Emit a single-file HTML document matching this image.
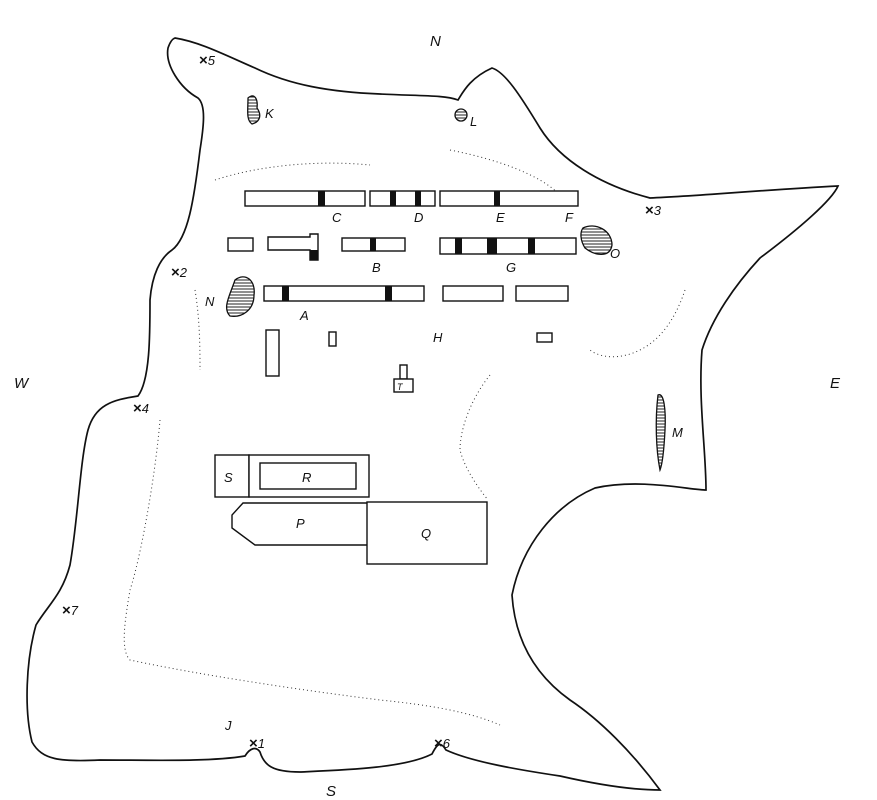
<!DOCTYPE html>
<html><head><meta charset="utf-8"><style>html,body{margin:0;padding:0;background:#fff}svg{display:block}text{font-family:"Liberation Sans",sans-serif;font-style:italic;fill:#111}.x{font-style:normal;font-weight:bold;font-size:15px}</style></head>
<body>
<svg width="877" height="800" viewBox="0 0 877 800" xmlns="http://www.w3.org/2000/svg">
<defs><pattern id="h" width="4" height="3" patternUnits="userSpaceOnUse"><rect width="4" height="3" fill="#fff"/><line x1="0" y1="1" x2="4" y2="1" stroke="#222" stroke-width="1"/></pattern></defs>
<g fill="none" stroke="#111" stroke-width="1.7">
<path d="M175,38 C200,42 225,55 255,68 C290,85 330,92 380,94 C420,96 445,95 458,100 C463,92 470,78 492,68 C505,72 520,95 540,128 C560,160 600,185 650,198 C700,196 760,190 838,186 C832,200 800,228 760,258 C735,285 712,318 702,350 C698,400 706,450 706,490 C690,490 640,478 595,488 C555,505 522,545 512,595 C515,640 535,675 570,700 C600,720 632,752 660,790 C630,790 595,784 560,776 C520,770 472,762 446,750 C441,742 438,742 432,754 C405,768 345,770 300,772 C272,772 264,765 260,752 C256,746 250,748 245,756 C210,762 150,760 100,760 C60,762 42,760 32,742 C24,710 26,660 36,625 C48,605 62,595 70,565 C78,520 80,460 88,430 C95,405 112,400 138,396 C150,380 150,335 150,300 C152,275 160,258 172,250 C188,238 194,200 200,150 C204,125 206,105 198,98 C180,88 165,65 168,48 C170,42 172,39 175,38 Z"/>
</g>
<g fill="none" stroke="#333" stroke-width="1" stroke-dasharray="1,3">
<path d="M215,180 C260,165 320,160 370,165"/>
<path d="M450,150 C500,160 540,175 560,195"/>
<path d="M195,290 C200,320 200,350 200,370"/>
<path d="M685,290 C675,320 660,340 640,350 C620,360 600,358 590,350"/>
<path d="M490,375 C470,400 460,430 460,450 C465,470 480,490 488,500"/>
<path d="M160,420 C155,480 140,560 130,590 C125,620 120,650 130,660 C200,675 300,690 380,700 C430,705 470,712 500,725"/>
</g>
<g fill="#fff" stroke="#111" stroke-width="1.4">
<rect x="245" y="191" width="120" height="15"/><rect x="370" y="191" width="65" height="15"/><rect x="440" y="191" width="138" height="15"/>
<rect x="228" y="238" width="25" height="13"/>
<path d="M268,237 H310 V234 H318 V260 H310 V250 H268 Z"/>
<rect x="342" y="238" width="63" height="13"/><rect x="440" y="238" width="136" height="16"/>
<rect x="264" y="286" width="160" height="15"/><rect x="443" y="286" width="60" height="15"/><rect x="516" y="286" width="52" height="15"/>
<rect x="266" y="330" width="13" height="46"/><rect x="329" y="332" width="7" height="14"/><rect x="537" y="333" width="15" height="9"/>
<rect x="400" y="365" width="7" height="14"/><rect x="394" y="379" width="19" height="13"/>
<rect x="215" y="455" width="34" height="42"/><rect x="249" y="455" width="120" height="42"/><rect x="260" y="463" width="96" height="26"/>
<path d="M243,503 H370 V545 H255 L232,528 V515 Z"/>
<rect x="367" y="502" width="120" height="62"/>
</g>
<g fill="#111">
<rect x="318" y="191" width="7" height="15"/><rect x="390" y="191" width="6" height="15"/><rect x="415" y="191" width="6" height="15"/><rect x="494" y="191" width="6" height="15"/>
<rect x="310" y="250" width="8" height="10"/><rect x="370" y="238" width="6" height="13"/>
<rect x="455" y="238" width="7" height="16"/><rect x="487" y="238" width="10" height="16"/><rect x="528" y="238" width="7" height="16"/>
<rect x="282" y="286" width="7" height="15"/><rect x="385" y="286" width="7" height="15"/>
</g>
<g stroke="#111" stroke-width="1.3" fill="url(#h)">
<path d="M248,98 C255,92 258,100 257,108 C262,115 260,122 252,124 C246,120 248,110 248,98 Z"/>
<ellipse cx="461" cy="115" rx="6" ry="6"/>
<path d="M583,228 C595,222 612,230 612,245 C610,258 595,256 585,248 C580,240 580,232 583,228 Z"/>
<path d="M235,280 C245,272 256,280 254,295 C254,310 242,318 230,316 C222,308 230,295 235,280 Z"/>
<path d="M658,395 C664,392 666,410 665,430 C664,450 662,465 660,470 C656,450 655,420 658,395 Z"/>
</g>
<g font-size="13" stroke="none">
<text x="430" y="46" font-size="15">N</text><text x="830" y="388" font-size="15">E</text><text x="14" y="388" font-size="15">W</text><text x="326" y="796" font-size="15">S</text>
<text x="332" y="222">C</text><text x="414" y="222">D</text><text x="496" y="222">E</text><text x="565" y="222">F</text>
<text x="372" y="272">B</text><text x="506" y="272">G</text><text x="300" y="320">A</text><text x="433" y="342">H</text>
<text x="205" y="306">N</text><text x="265" y="118">K</text><text x="470" y="126">L</text><text x="610" y="258">O</text><text x="672" y="437">M</text>
<text x="224" y="482">S</text><text x="302" y="482">R</text><text x="296" y="528">P</text><text x="421" y="538">Q</text><text x="397" y="390" font-size="9">T</text>
<text x="225" y="730">J</text>
<text x="199" y="65"><tspan class="x">×</tspan>5</text><text x="645" y="215"><tspan class="x">×</tspan>3</text><text x="171" y="277"><tspan class="x">×</tspan>2</text><text x="133" y="413"><tspan class="x">×</tspan>4</text>
<text x="62" y="615"><tspan class="x">×</tspan>7</text><text x="249" y="748"><tspan class="x">×</tspan>1</text><text x="434" y="748"><tspan class="x">×</tspan>6</text>
</g>
</svg>
</body></html>
